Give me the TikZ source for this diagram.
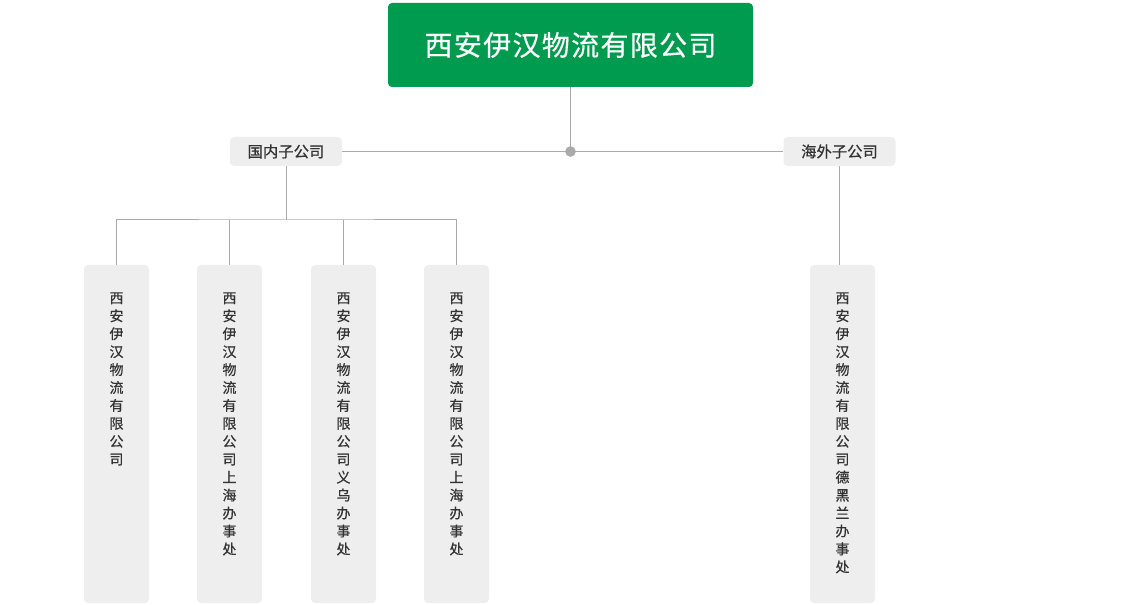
\documentclass[tikz,border=0pt]{standalone}
\usepackage{fontspec}
\newfontfamily\cjk{Noto Sans CJK SC}
\newfontfamily\cjkb[FakeBold=0.6]{Noto Sans CJK SC}
\newfontfamily\cjkt[FakeBold=0.4]{Noto Sans CJK SC}
\definecolor{topgreen}{HTML}{009B4E}
\definecolor{boxgray}{HTML}{EEEEEE}
\definecolor{linegray}{HTML}{AAAAAA}
\definecolor{txt}{HTML}{333333}
\newcommand{\tk}{\kern1pt}
\tikzset{
  topbox/.style={fill=topgreen, rounded corners=3pt, minimum width=273.75pt, minimum height=63pt, inner sep=0pt, text=white, font=\cjkt\fontsize{21pt}{24pt}\selectfont},
  midbox/.style={fill=boxgray, rounded corners=3pt, minimum width=84pt, minimum height=21.75pt, inner sep=0pt, text=txt, font=\cjkb\fontsize{11.5pt}{13pt}\selectfont},
  leafbox/.style={fill=boxgray, rounded corners=3pt, minimum width=48.75pt, minimum height=253.5pt, inner sep=0pt},
  leaftext/.style={text=txt, align=center, inner sep=0pt, font=\cjkb\fontsize{10.5pt}{13.45pt}\selectfont},
  conn/.style={draw=linegray, line width=0.75pt},
}
\begin{document}
\begin{tikzpicture}[x=0.75pt,y=-0.75pt]
\useasboundingbox (0,0) rectangle (1128,605);
\node[topbox] (top) at (570.5,45) {西\tk 安\tk 伊\tk 汉\tk 物\tk 流\tk 有\tk 限\tk 公\tk 司};
\node[midbox] (dom) at (286,151.5) {国内子公司};
\node[midbox] (ovs) at (839.5,151.5) {海外子公司};
\fill[linegray] (570.5,151.5) circle (4pt);
\coordinate (hub) at (570.5,151.5);
\draw[conn] (top.south) -- (hub);
\draw[conn] (dom.east) -- (ovs.west);

\foreach \n/\x/\t in {
  l1/116.5/{西\\安\\伊\\汉\\物\\流\\有\\限\\公\\司},
  l2/229.5/{西\\安\\伊\\汉\\物\\流\\有\\限\\公\\司\\上\\海\\办\\事\\处},
  l3/343.5/{西\\安\\伊\\汉\\物\\流\\有\\限\\公\\司\\义\\乌\\办\\事\\处},
  l4/456.5/{西\\安\\伊\\汉\\物\\流\\有\\限\\公\\司\\上\\海\\办\\事\\处},
  r1/842.5/{西\\安\\伊\\汉\\物\\流\\有\\限\\公\\司\\德\\黑\\兰\\办\\事\\处}}{
  \node[leafbox] (\n) at (\x,434) {};
  \node[leaftext, anchor=north] (\n t) at ([yshift=-20.5pt]\n.north) {\t};
}
\coordinate (bus) at (286,220);
\draw[conn] (dom.south) -- (bus);
\draw[conn] (l1.north) |- (bus) -| (l4.north);
\draw[conn] (l2.north) -- (l2.north |- bus);
\draw[conn] (l3.north) -- (l3.north |- bus);
\draw[conn] (ovs.south) -- (ovs.south |- r1.north);
\end{tikzpicture}
\end{document}
